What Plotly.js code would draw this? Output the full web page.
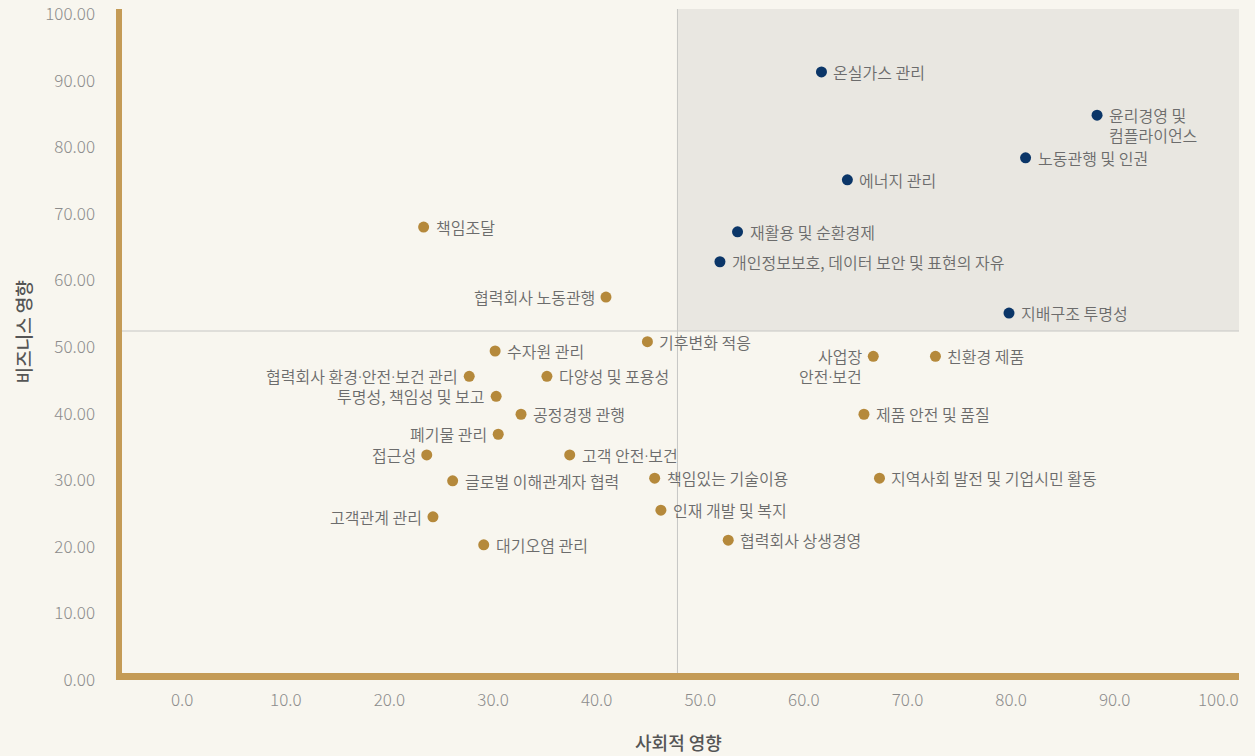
<!DOCTYPE html>
<html>
<head>
<meta charset="utf-8">
<script src="https://cdn.plot.ly/plotly-3.0.1.min.js"></script>
<style>
html,body{margin:0;padding:0;background:#f8f6ef;}
#chart{width:1255px;height:756px;}
</style>
</head>
<body>
<div id="chart"></div>
<script>
// High-priority (navy) issues
const navyLabels = ["온실가스 관리", "윤리경영 및<br>컴플라이언스", "노동관행 및 인권", "에너지 관리", "재활용 및 순환경제", "개인정보보호, 데이터 보안 및 표현의 자유", "지배구조 투명성"];
const navySocial = [61.7, 88.3, 81.4, 64.2, 53.6, 51.9, 79.8];
const navyBusiness = [91.3, 84.8, 78.4, 75.1, 67.3, 62.8, 55.1];
const navySide = ["right", "right", "right", "right", "right", "right", "right"];

// Other (gold) issues
const goldLabels = ["책임조달", "협력회사 노동관행", "기후변화 적응", "수자원 관리", "협력회사 환경·안전·보건 관리", "다양성 및 포용성", "투명성, 책임성 및 보고", "공정경쟁 관행", "폐기물 관리", "접근성", "고객 안전·보건", "글로벌 이해관계자 협력", "책임있는 기술이용", "지역사회 발전 및 기업시민 활동", "고객관계 관리", "인재 개발 및 복지", "대기오염 관리", "협력회사 상생경영", "사업장<br>안전·보건", "친환경 제품", "제품 안전 및 품질"];
const goldSocial = [23.3, 40.9, 44.9, 30.2, 27.7, 35.2, 30.3, 32.7, 30.5, 23.6, 37.4, 26.1, 45.6, 67.3, 24.2, 46.2, 29.1, 52.7, 66.7, 72.7, 65.8];
const goldBusiness = [68.0, 57.5, 50.8, 49.4, 45.6, 45.6, 42.6, 39.9, 36.9, 33.8, 33.8, 29.9, 30.3, 30.3, 24.5, 25.5, 20.3, 21.0, 48.6, 48.6, 39.9];
const goldSide = ["right", "left", "right", "right", "left", "right", "left", "right", "left", "left", "right", "right", "right", "right", "left", "right", "right", "right", "left", "right", "right"];

// Quadrant thresholds
const socialThreshold = [47.8];
const businessThreshold = [52.4];

// Axis titles
const xTitle = "사회적 영향";
const yTitle = "비즈니스 영향";

const xRange = [-6.2, 102];
const yRange = [0, 100.75];

const navyColor = "#0b3668";
const goldColor = "#b5893b";
const axisColor = "#c49b56";
const labelColor = "#6c6c6c";
const fontFam = "'Noto Sans CJK KR', 'Noto Sans', sans-serif";

const traces = [
  {x: goldSocial, y: goldBusiness, mode: "markers", type: "scatter",
   marker: {color: goldColor, size: 11}, hoverinfo: "skip", cliponaxis: false},
  {x: navySocial, y: navyBusiness, mode: "markers", type: "scatter",
   marker: {color: navyColor, size: 11}, hoverinfo: "skip", cliponaxis: false}
];

// narrow Latin middle dot instead of the full-width CJK glyph
function fmt(s) {
  return s.split("·").join("<span style=\"font-family:'Noto Sans'\">·</span>");
}

function makeAnn(labels, xs, ys, sides) {
  const out = [];
  labels.forEach((t, i) => {
    const left = sides[i] === "left";
    t.split("<br>").forEach((line, k) => {
      out.push({
        x: xs[i], y: ys[i], xref: "x", yref: "y", text: fmt(line), showarrow: false,
        xanchor: left ? "right" : "left", yanchor: "middle",
        align: left ? "right" : "left",
        xshift: left ? -9 : 10, yshift: -19.5 * k,
        font: {family: fontFam, size: 16, color: labelColor, weight: 350}
      });
    });
  });
  return out;
}

const annotations = makeAnn(navyLabels, navySocial, navyBusiness, navySide)
  .concat(makeAnn(goldLabels, goldSocial, goldBusiness, goldSide))
  .concat([{
    xref: "paper", yref: "paper", x: 0, y: 0.5, xshift: -96, yshift: 12,
    text: yTitle, textangle: -90, showarrow: false, xanchor: "center", yanchor: "middle",
    font: {family: fontFam, size: 18, color: "#555555", weight: 500}
  }]);

const shapes = [
  {type: "rect", xref: "x", yref: "y", x0: socialThreshold[0], x1: xRange[1], y0: businessThreshold[0], y1: yRange[1],
   fillcolor: "#e9e7e1", line: {width: 0}, layer: "below"},
  {type: "line", xref: "x", yref: "y", x0: socialThreshold[0], x1: socialThreshold[0], y0: yRange[0], y1: yRange[1],
   line: {color: "#c6c6c4", width: 1}, layer: "below"},
  {type: "line", xref: "x", yref: "y", x0: xRange[0], x1: xRange[1], y0: businessThreshold[0], y1: businessThreshold[0],
   line: {color: "#c6c6c4", width: 1}, layer: "below"},
  // thick golden axis frame (left and bottom), drawn inside the plot edge
  {type: "rect", xref: "paper", yref: "paper", xsizemode: "pixel", xanchor: 0, x0: -2, x1: 4, y0: 0, y1: 1,
   fillcolor: axisColor, line: {width: 0}, layer: "above"},
  {type: "rect", xref: "paper", yref: "paper", ysizemode: "pixel", yanchor: 0, y0: 0, y1: 7, x0: -0.0018, x1: 1,
   fillcolor: axisColor, line: {width: 0}, layer: "above"}
];

const layout = {
  width: 1255, height: 756,
  paper_bgcolor: "#f8f6ef", plot_bgcolor: "#f8f6ef",
  margin: {l: 118, r: 16, t: 9, b: 76},
  showlegend: false,
  font: {family: fontFam},
  xaxis: {
    range: xRange, tickmode: "linear", tick0: 0, dtick: 10, tickformat: ".1f",
    showgrid: false, zeroline: false, showline: false,
    ticks: "", ticklabelstandoff: 8, ticklabeloverflow: "allow",
    tickfont: {family: fontFam, size: 17, color: "#8c8c8c", weight: 300},
    title: {text: xTitle, standoff: 27, font: {family: fontFam, size: 18, color: "#555555", weight: 500}},
    automargin: false, fixedrange: true
  },
  yaxis: {
    range: yRange, tickmode: "linear", tick0: 0, dtick: 10, tickformat: ".2f",
    showgrid: false, zeroline: false, showline: false,
    ticks: "", ticklabelstandoff: 22, ticklabeloverflow: "allow",
    tickfont: {family: fontFam, size: 17, color: "#8c8c8c", weight: 300},
    automargin: false, fixedrange: true
  },
  shapes: shapes,
  annotations: annotations
};

Plotly.newPlot("chart", traces, layout, {displayModeBar: false, staticPlot: true});
</script>
</body>
</html>
